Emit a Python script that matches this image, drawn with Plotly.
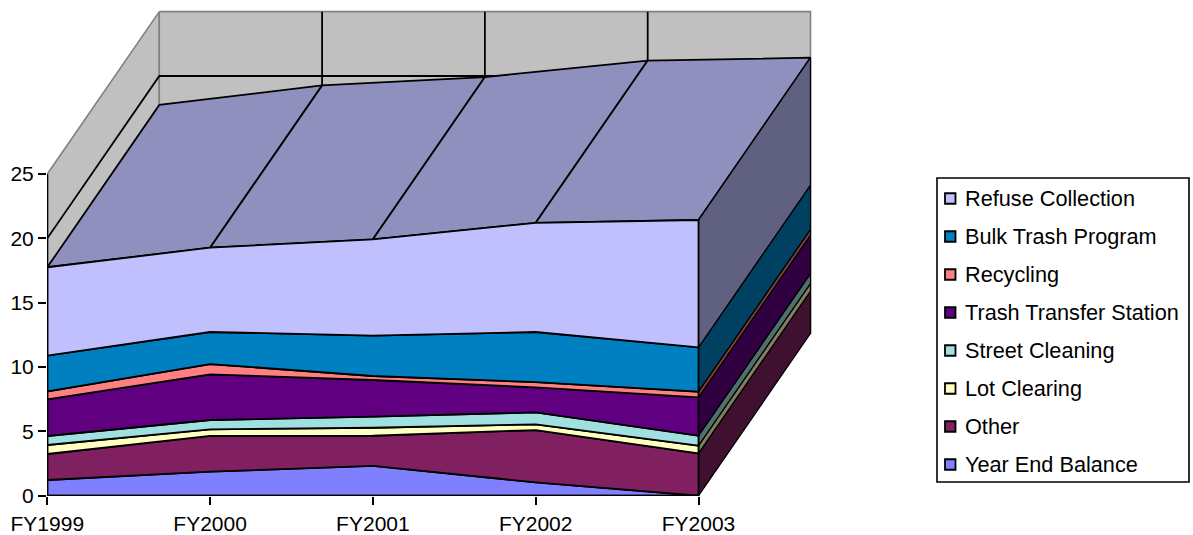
import plotly.graph_objects as go

# Categories and stacked series, bottom of the stack first
years = ["FY1999", "FY2000", "FY2001", "FY2002", "FY2003"]
year_end_balance = [1.22, 1.87, 2.31, 1.04, 0.0]
other = [2.02, 2.77, 2.35, 4.06, 3.29]
lot_clearing = [0.70, 0.51, 0.62, 0.44, 0.60]
street_cleaning = [0.70, 0.73, 0.86, 0.94, 0.77]
trash_transfer = [2.85, 3.55, 2.85, 1.94, 2.98]
recycling = [0.61, 0.80, 0.31, 0.41, 0.44]
bulk_trash = [2.78, 2.49, 3.14, 3.89, 3.45]
refuse = [6.87, 6.55, 7.48, 8.48, 9.89]
y_ticks = [0, 5, 10, 15, 20, 25]

# name, values, front colour, right-side colour
stack = [
    ("Year End Balance", year_end_balance, "#8080FF", "#404080"),
    ("Other", other, "#802060", "#401030"),
    ("Lot Clearing", lot_clearing, "#FFFFC0", "#808060"),
    ("Street Cleaning", street_cleaning, "#A0E0E0", "#507070"),
    ("Trash Transfer Station", trash_transfer, "#600080", "#300040"),
    ("Recycling", recycling, "#FF8080", "#804040"),
    ("Bulk Trash Program", bulk_trash, "#0080C0", "#004060"),
    ("Refuse Collection", refuse, "#C0C0FF", "#606080"),
]
TOP_COLOR = "#9090BE"
WALL_COLOR = "#C0C0C0"
WALL_EDGE = "#808080"
FONT = "Liberation Sans, Arial, sans-serif"
TICK_FONT_SIZE = 21
LEGEND_FONT_SIZE = 21.7
LINE = 1.8

W, H = 1193, 535
M_LEFT, M_BOTTOM = 47, 39
PX_PER_CAT = 162.8
PX_PER_UNIT = 12.87
ORIGIN_X, ORIGIN_Y = 47.3, 495.7
# Oblique depth of the 3D box, in axis units
DEPTH_X = 112.0 / PX_PER_CAT
DEPTH_Y = 162.3 / PX_PER_UNIT
xs = list(range(len(years)))
last = xs[-1]
y_max = y_ticks[-1]
plot_w = W - M_LEFT
plot_h = H - M_BOTTOM


def poly(x, y, fill, name, color="black", width=LINE):
    return go.Scatter(x=x, y=y, mode="lines", fill="toself", fillcolor=fill,
                      line=dict(color=color, width=width), name=name,
                      showlegend=False, cliponaxis=False, hoverinfo="name")


def line(x, y, color="black", width=LINE):
    return go.Scatter(x=x, y=y, mode="lines", line=dict(color=color, width=width),
                      showlegend=False, cliponaxis=False, hoverinfo="skip")


def paper_x(px):
    return (px - M_LEFT) / plot_w


def paper_y(py):
    return 1 - py / plot_h


fig = go.Figure()

# Left and back walls
fig.add_trace(poly([0, DEPTH_X, DEPTH_X, 0, 0],
                   [y_max, y_max + DEPTH_Y, DEPTH_Y, 0, y_max],
                   WALL_COLOR, "Side wall", WALL_EDGE, 1.6))
fig.add_trace(poly([DEPTH_X, last + DEPTH_X, last + DEPTH_X, DEPTH_X, DEPTH_X],
                   [y_max + DEPTH_Y, y_max + DEPTH_Y, DEPTH_Y, DEPTH_Y, y_max + DEPTH_Y],
                   WALL_COLOR, "Back wall", WALL_EDGE, 1.6))

# Gridlines on the walls
for t in y_ticks[1:-1]:
    fig.add_trace(line([0, DEPTH_X, last + DEPTH_X], [t, t + DEPTH_Y, t + DEPTH_Y]))
for i in xs[1:-1]:
    fig.add_trace(line([i + DEPTH_X, i + DEPTH_X], [DEPTH_Y, y_max + DEPTH_Y]))

# Running totals for the stack
tops = []
running = [0.0] * len(xs)
for name, values, front, side in stack:
    lower = running
    running = [a + b for a, b in zip(running, values)]
    tops.append((name, lower, running, front, side))

# Upper surface of the top series, one facet per category interval
top_line = tops[-1][2]
for i in xs[:-1]:
    fig.add_trace(poly(
        [i, i + 1, i + 1 + DEPTH_X, i + DEPTH_X, i],
        [top_line[i], top_line[i + 1], top_line[i + 1] + DEPTH_Y, top_line[i] + DEPTH_Y, top_line[i]],
        TOP_COLOR, "Refuse Collection"))

# Right-hand faces at the last category
for name, lower, upper, front, side in tops:
    if upper[last] > lower[last]:
        fig.add_trace(poly(
            [last, last + DEPTH_X, last + DEPTH_X, last, last],
            [lower[last], lower[last] + DEPTH_Y, upper[last] + DEPTH_Y, upper[last], lower[last]],
            side, name, width=1.3))

# Front faces
for name, lower, upper, front, side in tops:
    fig.add_trace(poly(xs + xs[::-1] + [xs[0]],
                       upper + lower[::-1] + [upper[0]],
                       front, name))

# Axis lines
fig.add_trace(line([0, last], [0, 0], width=2))
fig.add_trace(line([0, 0], [0, y_max], width=2))

# Legend box, top series first
BOX = dict(x0=937, x1=1189, y0=178, y1=482)
ROW_0, ROW_STEP = 198.5, 38
SWATCH_X0, SWATCH = 945, 10.5
TEXT_X = 965.5
shapes = [dict(type="rect", xref="paper", yref="paper",
               x0=paper_x(BOX["x0"]), x1=paper_x(BOX["x1"]),
               y0=paper_y(BOX["y0"]), y1=paper_y(BOX["y1"]),
               fillcolor="white", line=dict(color="black", width=1.6), layer="above")]
annotations = []
for row, (name, values, front, side) in enumerate(reversed(stack)):
    cy = ROW_0 + row * ROW_STEP
    shapes.append(dict(type="rect", xref="paper", yref="paper",
                       x0=paper_x(SWATCH_X0), x1=paper_x(SWATCH_X0 + SWATCH),
                       y0=paper_y(cy - SWATCH / 2), y1=paper_y(cy + SWATCH / 2),
                       fillcolor=front, line=dict(color="black", width=1.8), layer="above"))
    annotations.append(dict(xref="paper", yref="paper", x=paper_x(TEXT_X), y=paper_y(cy),
                            text=name, showarrow=False, xanchor="left", yanchor="middle",
                            xshift=-2, borderpad=0,
                            font=dict(family=FONT, size=LEGEND_FONT_SIZE, color="black")))

x_start = (M_LEFT - ORIGIN_X) / PX_PER_CAT
y_start = (ORIGIN_Y - plot_h) / PX_PER_UNIT

fig.update_layout(
    width=W, height=H, autosize=False,
    margin=dict(l=M_LEFT, r=0, t=0, b=M_BOTTOM, pad=0),
    paper_bgcolor="white", plot_bgcolor="white",
    showlegend=False, shapes=shapes, annotations=annotations,
    xaxis=dict(range=[x_start, x_start + plot_w / PX_PER_CAT], tickvals=xs, ticktext=years,
               showgrid=False, zeroline=False, showline=False, ticks="outside", ticklen=8,
               tickwidth=1.8, tickcolor="black", tickangle=0, ticklabelstandoff=1,
               tickfont=dict(family=FONT, size=TICK_FONT_SIZE, color="black")),
    yaxis=dict(range=[y_start, y_start + plot_h / PX_PER_UNIT], tickvals=y_ticks,
               showgrid=False, zeroline=False, showline=False, ticks="outside", ticklen=8,
               tickwidth=1.8, tickcolor="black",
               tickfont=dict(family=FONT, size=TICK_FONT_SIZE, color="black")),
)

fig.write_html("out.html", config=dict(displayModeBar=False))
